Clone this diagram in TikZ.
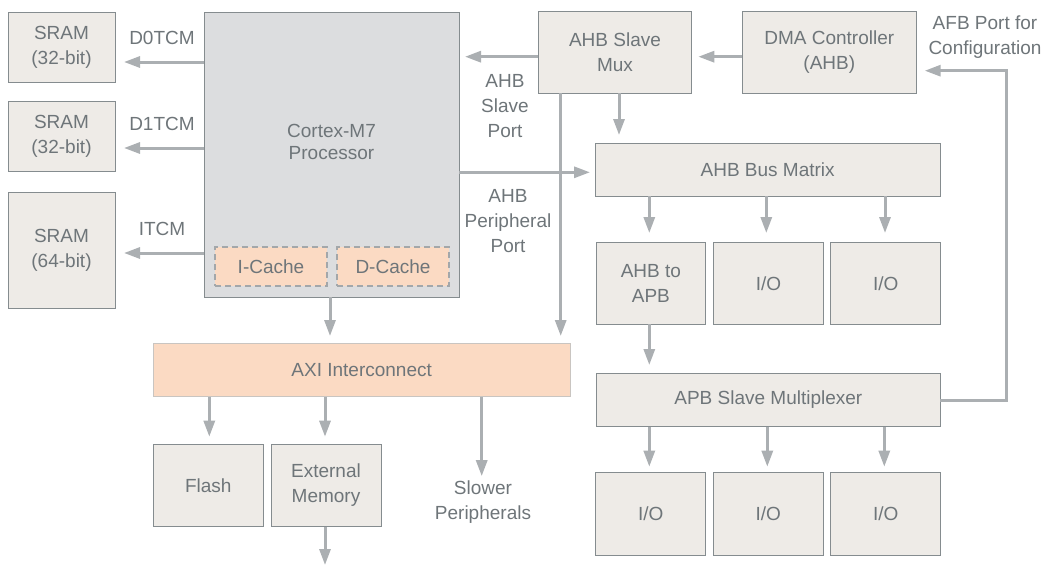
\documentclass[tikz,border=0pt]{standalone}
\usepackage{fontspec}
\setmainfont{Liberation Sans}
\usetikzlibrary{arrows.meta}
\definecolor{boxfill}{HTML}{EEEBE7}
\definecolor{boxline}{HTML}{858C8F}
\definecolor{txt}{HTML}{6E7579}
\definecolor{arrcol}{HTML}{ABAFB2}
\definecolor{cpufill}{HTML}{DCDDDF}
\definecolor{peach}{HTML}{FBDAC3}
\definecolor{dashcol}{HTML}{A3A7AA}
\definecolor{axiline}{HTML}{C9C5C1}
\tikzset{
  base/.style={inner sep=0pt, outer sep=0pt, anchor=north west, align=center, text=txt,
    font=\fontsize{19}{25}\selectfont},
  blk/.style={base, fill=boxfill, draw=boxline, line width=1pt},
  lbl/.style={inner sep=0pt, outer sep=0pt, align=center, text=txt, font=\fontsize{19}{25}\selectfont},
  arr/.style={draw=arrcol, line width=3pt, -{Triangle[length=16pt,width=11pt]}},
  ln/.style={draw=arrcol, line width=3pt},
}
\begin{document}
\begin{tikzpicture}[x=1pt,y=-1pt]
\useasboundingbox (0,0) rectangle (1044,565);
% left SRAMs
\node[blk, minimum width=107pt, minimum height=70pt] (sram1) at (8,12) {SRAM\\(32-bit)};
\node[blk, minimum width=107pt, minimum height=70pt] (sram2) at (8,101) {SRAM\\(32-bit)};
\node[blk, minimum width=107pt, minimum height=116pt] (sram3) at (8,192) {SRAM\\(64-bit)};
% processor
\node[base, fill=cpufill, draw=boxline, line width=1pt, minimum width=255pt, minimum height=285pt] (cpu) at (204,12) {};
\node[lbl, font=\fontsize{19}{22.3}\selectfont] (cputxt) at (331.5,142) {Cortex-M7\\Processor};
\node[base, fill=peach, draw=dashcol, line width=1.5pt, dash pattern=on 6pt off 4pt, minimum width=112pt, minimum height=39pt] (icache) at (215,247) {I-Cache};
\node[base, fill=peach, draw=dashcol, line width=1.5pt, dash pattern=on 6pt off 4pt, minimum width=112pt, minimum height=39pt] (dcache) at (337,247) {D-Cache};
% top right
\node[blk, minimum width=153.4pt, minimum height=81.7pt] (smux) at (538.3,11.3) {AHB Slave\\Mux};
\node[blk, minimum width=174pt, minimum height=81.7pt] (dma) at (742.3,11.3) {DMA Controller\\(AHB)};
\node[blk, minimum width=344.7pt, minimum height=52.6pt] (bus) at (595.3,143.7) {AHB Bus Matrix};
\node[blk, minimum width=109.7pt, minimum height=81.6pt] (a2a) at (596,242.7) {AHB to\\APB};
\node[blk, minimum width=109.6pt, minimum height=81.6pt] (io1) at (713.7,242.7) {I/O};
\node[blk, minimum width=110pt, minimum height=81.6pt] (io2) at (830.7,242.7) {I/O};
\node[blk, minimum width=343.3pt, minimum height=53.4pt] (apb) at (596.7,373.3) {APB Slave Multiplexer};
\node[blk, minimum width=110pt, minimum height=82.3pt] (io3) at (595.7,472.7) {I/O};
\node[blk, minimum width=110pt, minimum height=82.3pt] (io4) at (713.3,472.7) {I/O};
\node[blk, minimum width=110pt, minimum height=82.3pt] (io5) at (830.7,472.7) {I/O};
% AXI
\node[base, fill=peach, draw=axiline, line width=1pt, minimum width=416.7pt, minimum height=53.4pt] (axi) at (153.3,343.3) {AXI Interconnect};
\node[blk, minimum width=110pt, minimum height=82.7pt] (flash) at (153.3,444) {Flash};
\node[blk, minimum width=110pt, minimum height=82.7pt] (ext) at (271,444) {External\\Memory};
% labels
\node[lbl] (l0) at (162,38) {D0TCM};
\node[lbl] (l1) at (162,124) {D1TCM};
\node[lbl] (l2) at (162,229) {ITCM};
\node[lbl] (lsp) at (505,106) {AHB\\Slave\\Port};
\node[lbl] (lpp) at (508,221.5) {AHB\\Peripheral\\Port};
\node[lbl] (lafb) at (985,36.6) {AFB Port for\\Configuration};
\node[lbl] (lslow) at (483,502.5) {Slower\\Peripherals};
\coordinate (extout) at (325,565);
\coordinate (fb) at (1006.7,400);
% arrows
\draw[arr, shorten >=9pt] (cpu.west |- 0,62) -- (sram1.east |- 0,62);
\draw[arr, shorten >=9pt] (cpu.west |- 0,148) -- (sram2.east |- 0,148);
\draw[arr, shorten >=9pt] (cpu.west |- 0,253) -- (sram3.east |- 0,253);
\draw[arr, shorten >=6pt] (smux.west |- 0,56.7) -- (cpu.east |- 0,56.7);
\draw[arr, shorten >=6.6pt] (dma.west |- 0,56.7) -- (smux.east |- 0,56.7);
\draw[arr, shorten >=8.7pt] (smux.south -| 619,0) -- (bus.north -| 619,0);
\draw[arr, shorten >=5.3pt] (cpu.east |- 0,172.3) -- (bus.west |- 0,172.3);
\draw[arr, shorten >=7.3pt] (smux.south -| 560.7,0) -- (axi.north -| 560.7,0);
\draw[arr, shorten >=7.3pt] (cpu.south -| 330,0) -- (axi.north -| 330,0);
\draw[arr, shorten >=9.7pt] (bus.south -| 649.3,0) -- (a2a.north -| 649.3,0);
\draw[arr, shorten >=9.7pt] (bus.south -| 766.3,0) -- (io1.north -| 766.3,0);
\draw[arr, shorten >=9.7pt] (bus.south -| 885,0) -- (io2.north -| 885,0);
\draw[arr, shorten >=8.3pt] (a2a.south -| 649.3,0) -- (apb.north -| 649.3,0);
\draw[arr, shorten >=6pt] (apb.south -| 649.3,0) -- (io3.north -| 649.3,0);
\draw[arr, shorten >=6pt] (apb.south -| 767.3,0) -- (io4.north -| 767.3,0);
\draw[arr, shorten >=6pt] (apb.south -| 884.3,0) -- (io5.north -| 884.3,0);
\draw[arr, shorten >=7.3pt] (axi.south -| 209.3,0) -- (flash.north -| 209.3,0);
\draw[arr, shorten >=7.3pt] (axi.south -| 325,0) -- (ext.north -| 325,0);
\draw[arr, shorten >=5pt] (axi.south -| 481.7,0) -- (lslow.north -| 481.7,0);
\draw[arr] (ext.south -| extout) -- (extout);
\draw[arr, shorten >=8.4pt] (apb.east |- fb) -- (fb) -- (fb |- 0,70.7) -- (dma.east |- 0,70.7);
\end{tikzpicture}
\end{document}
